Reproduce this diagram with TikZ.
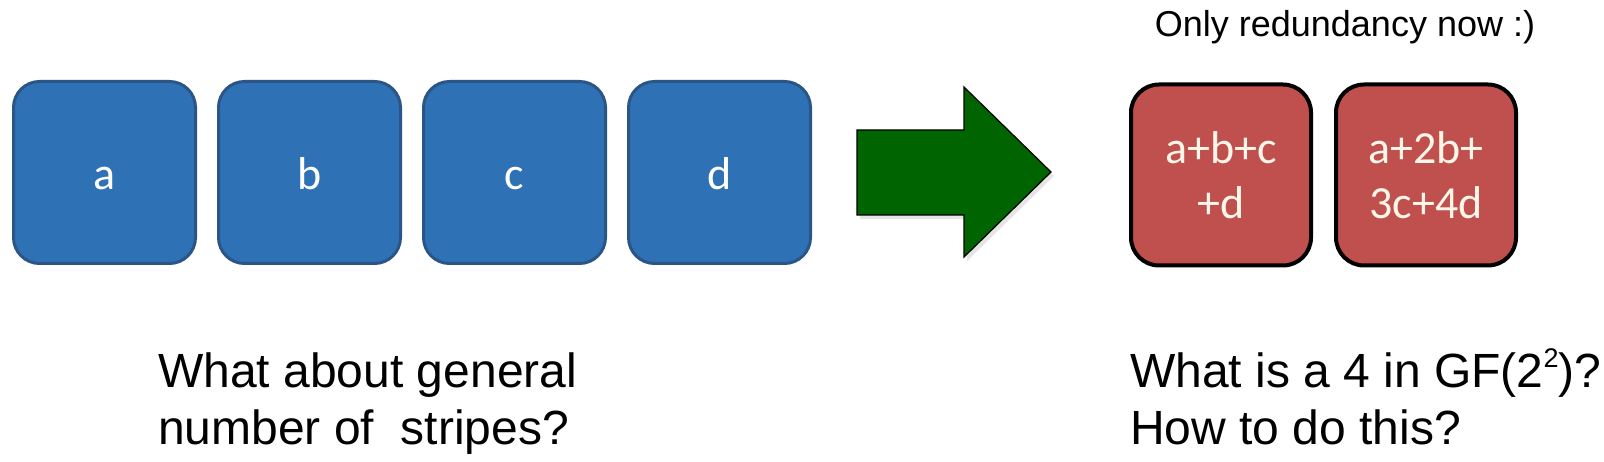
\documentclass[tikz,border=0pt]{standalone}
\usepackage{fontspec}
\setmainfont{Liberation Sans}
\newfontfamily\calib{Carlito}
\definecolor{boxblue}{HTML}{2F71B5}
\definecolor{boxblueline}{HTML}{2B5587}
\definecolor{boxred}{HTML}{C0504D}
\definecolor{arrowgreen}{HTML}{006400}
\definecolor{cream}{HTML}{FFF6EA}
\begin{document}
\begin{tikzpicture}[x=1pt,y=-1pt,
  datablock/.style={rectangle, rounded corners=26pt, fill=boxblue, draw=boxblueline, line width=3pt,
    minimum width=182pt, minimum height=182pt, inner sep=0pt, text=white,
    text height=35pt, text depth=0pt,
    font=\calib\fontsize{46}{55}\selectfont},
  parityblock/.style={rectangle, rounded corners=28pt, fill=boxred, draw=black, line width=4pt,
    minimum width=180pt, minimum height=181pt, inner sep=0pt, text=cream, align=center,
    font=\calib\fontsize{46}{55}\selectfont},
  bigtext/.style={anchor=base west, inner sep=0pt, font=\fontsize{48}{57}\selectfont},
  smalltext/.style={anchor=base, inner sep=0pt, font=\fontsize{36}{40}\selectfont}]
\useasboundingbox (0,0) rectangle (1604,462);
\fill[white] (0,0) rectangle (1604,462);
\node[datablock] (a) at (104.5,172.5) {a};
\node[datablock] (b) at (309.5,172.5) {b};
\node[datablock] (c) at (514.5,172.5) {c};
\node[datablock] (d) at (719.5,172.5) {d};
\fill[black!20, opacity=0.5] (860,134) -- (967,134) -- (967,91) -- (1054,176) -- (967,261) -- (967,219) -- (860,219) -- cycle;
\draw[fill=arrowgreen, draw=black, line width=1.2pt, line join=miter]
  (857,130) -- (964,130) -- (964,87) -- (1051,172) -- (964,257) -- (964,215) -- (857,215) -- cycle;
\node[parityblock] (p) at (1221,175) {a+b+c\\+d};
\node[parityblock] (q) at (1426,175) {a+2b+\\3c+4d};
\node[smalltext] (top) at (1345,37) {Only redundancy now :)};
\node[bigtext] (l1) at (158,387) {What about general};
\node[bigtext] (l2) at (158,444) {number of\ \ stripes?};
\node[bigtext] (r1) at (1130,387) {What is a 4 in GF(2\raisebox{20pt}{\fontsize{27}{27}\selectfont 2})?};
\node[bigtext] (r2) at (1130,444) {How to do this?};
\end{tikzpicture}
\end{document}
